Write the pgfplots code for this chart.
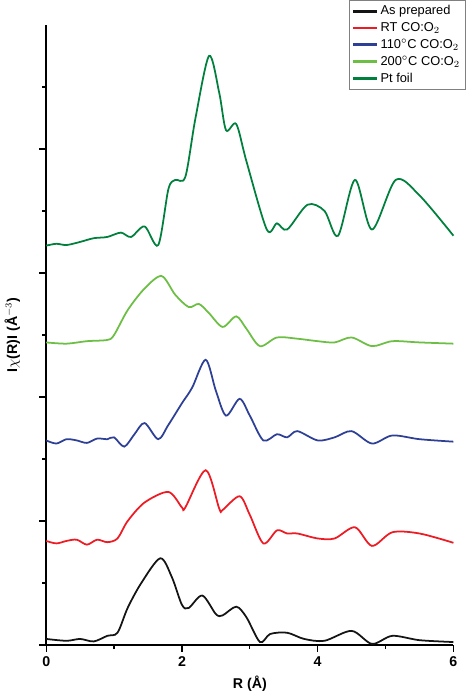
\documentclass[border=0pt]{standalone}
\usepackage{pgfplots}
\pgfplotsset{compat=1.18}
\usepackage{fontspec}
\setmainfont{Liberation Sans}
\definecolor{cblk}{RGB}{20,20,20}
\definecolor{cred}{RGB}{237,28,36}
\definecolor{cblu}{RGB}{46,64,150}
\definecolor{clg}{RGB}{108,190,69}
\definecolor{cdg}{RGB}{0,128,60}
\begin{document}
\begin{tikzpicture}
\begin{axis}[scale only axis, width=300bp, height=457bp,
 xmin=0, xmax=6, ymin=0, ymax=10,
 xtick={0,2,4,6}, minor xtick={1,3,5},
 ytick={0,2,4,6,8}, minor ytick={1,3,5,7,9}, yticklabels={},
 axis y line*=left, axis x line*=bottom,
 axis line style={line width=1.2pt},
 tick style={line width=1pt, black}, tick align=outside,
 major tick length=5pt, minor tick length=3pt,
 ticklabel style={font=\bfseries\fontsize{10.5}{12}\selectfont}, /pgf/number format/assume math mode=true,
 xlabel={\bfseries R (Å)}, ylabel={\bfseries I$\chi$(R)I (Å$^{-3}$)},
 label style={font=\fontsize{10.5}{12}\selectfont},
 ylabel style={yshift=4pt},
 every axis plot/.append style={line width=1.3pt, smooth, tension=0.5},
 legend style={at={(1.03,1.04)}, anchor=north east, font=\fontsize{9.5}{11}\selectfont, draw=gray, row sep=0pt, inner sep=2pt},
 legend image post style={line width=2pt},
 legend cell align=left,
 clip=false]
\addplot[cblk] coordinates {(0,0.1)(0.3,0.07)(0.5,0.1)(0.7,0.06)(0.9,0.15)(1.05,0.2)(1.2,0.6)(1.4,1.0)(1.68,1.4)(1.85,1.1)(2.0,0.65)(2.1,0.6)(2.3,0.8)(2.5,0.5)(2.6,0.48)(2.8,0.62)(2.95,0.45)(3.15,0.05)(3.3,0.18)(3.55,0.2)(3.8,0.1)(4.1,0.07)(4.5,0.23)(4.8,0.02)(5.1,0.15)(5.5,0.08)(6,0.05)};
\addplot[cred] coordinates {(0,1.68)(0.15,1.64)(0.3,1.68)(0.45,1.7)(0.6,1.62)(0.75,1.7)(0.9,1.66)(1.05,1.72)(1.2,2.0)(1.45,2.3)(1.8,2.47)(2.0,2.22)(2.05,2.22)(2.35,2.82)(2.55,2.2)(2.6,2.18)(2.85,2.4)(3.0,2.1)(3.2,1.64)(3.4,1.85)(3.55,1.8)(3.7,1.8)(4.0,1.72)(4.25,1.72)(4.55,1.9)(4.8,1.6)(5.1,1.82)(5.5,1.8)(6,1.65)};
\addplot[cblu] coordinates {(0,3.3)(0.15,3.25)(0.3,3.32)(0.45,3.3)(0.6,3.26)(0.75,3.33)(0.9,3.32)(1.0,3.35)(1.15,3.2)(1.3,3.4)(1.45,3.58)(1.65,3.32)(1.8,3.55)(2.0,3.9)(2.15,4.15)(2.35,4.6)(2.5,4.1)(2.65,3.7)(2.85,3.97)(3.0,3.7)(3.2,3.3)(3.4,3.4)(3.55,3.35)(3.7,3.45)(4.0,3.3)(4.25,3.35)(4.5,3.45)(4.8,3.25)(5.1,3.38)(5.5,3.32)(6,3.28)};
\addplot[clg] coordinates {(0,4.88)(0.3,4.86)(0.6,4.9)(0.9,4.92)(1.0,5.0)(1.2,5.4)(1.45,5.75)(1.7,5.95)(1.9,5.65)(2.1,5.45)(2.25,5.5)(2.4,5.35)(2.6,5.13)(2.8,5.3)(2.95,5.1)(3.15,4.82)(3.4,4.96)(3.7,4.94)(4.0,4.9)(4.25,4.88)(4.5,4.96)(4.8,4.82)(5.1,4.9)(5.5,4.88)(6,4.86)};
\addplot[cdg] coordinates {(0,6.44)(0.15,6.47)(0.3,6.45)(0.5,6.5)(0.7,6.56)(0.9,6.58)(1.1,6.65)(1.25,6.58)(1.45,6.75)(1.65,6.45)(1.8,7.35)(1.9,7.5)(2.05,7.55)(2.2,8.5)(2.4,9.5)(2.55,8.9)(2.65,8.3)(2.8,8.4)(2.95,7.8)(3.25,6.7)(3.4,6.8)(3.55,6.7)(3.85,7.1)(4.1,7.0)(4.3,6.6)(4.55,7.5)(4.8,6.7)(5.15,7.5)(5.5,7.25)(6.0,6.6)};
\legend{As prepared, RT CO:O$_2$, 110$^\circ$C CO:O$_2$, 200$^\circ$C CO:O$_2$, Pt foil}
\end{axis}
\end{tikzpicture}
\end{document}
